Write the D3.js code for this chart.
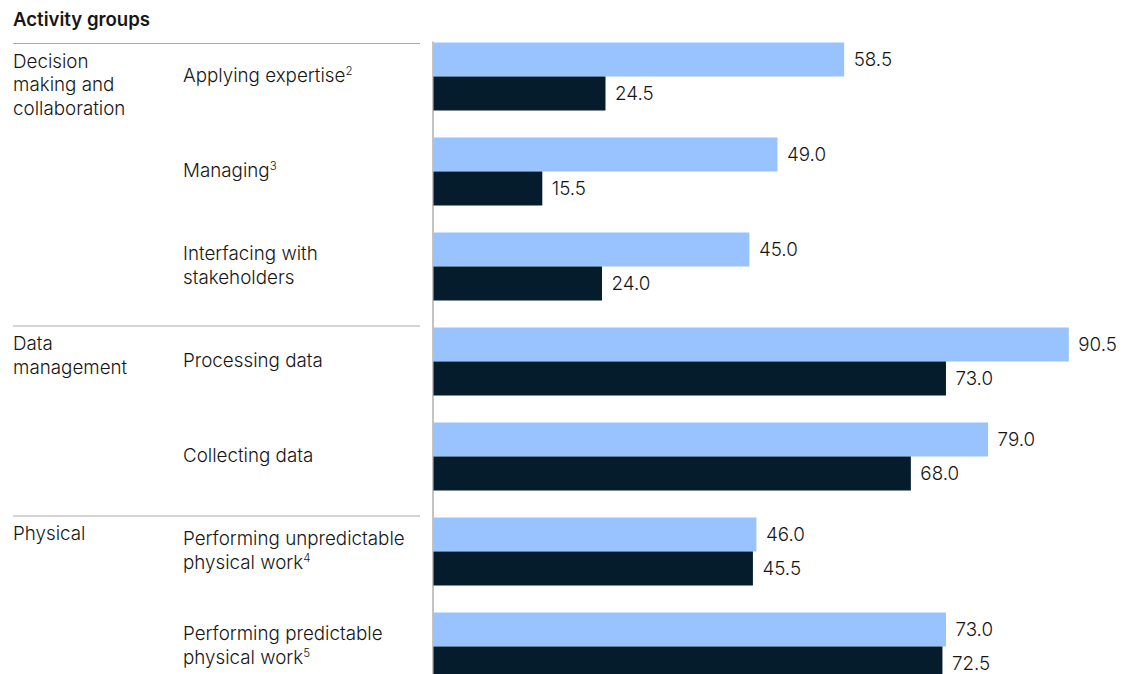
<!DOCTYPE html>
<html>
<head>
<meta charset="utf-8">
<script src="https://cdn.jsdelivr.net/npm/d3@7"></script>
<style>
    body { margin: 0; background: #fff; }
    text { font-family: Inter, "Liberation Sans", Arial, sans-serif; fill: #161616; font-weight: 300; }
</style>
</head>
<body>
<svg class="chart" width="1126" height="674"></svg>
<script>
// Activity groups and the activities in each (sup = footnote number)
var groups = [
    {name: ["Decision", "making and", "collaboration"], size: 3},
    {name: ["Data", "management"], size: 2},
    {name: ["Physical"], size: 2}
];
var activities = [
    {lines: ["Applying expertise"], sup: "2"},
    {lines: ["Managing"], sup: "3"},
    {lines: ["Interfacing with", "stakeholders"], sup: ""},
    {lines: ["Processing data"], sup: ""},
    {lines: ["Collecting data"], sup: ""},
    {lines: ["Performing unpredictable", "physical work"], sup: "4"},
    {lines: ["Performing predictable", "physical work"], sup: "5"}
];
var lightValues = [58.5, 49.0, 45.0, 90.5, 79.0, 46.0, 73.0];
var darkValues = [24.5, 15.5, 24.0, 73.0, 68.0, 45.5, 72.5];

var svg = d3.select(".chart"),
    margin = {top: 42.5, left: 433},
    plotBottom = 674;

var LIGHT = "#99c3ff", DARK = "#051c2c";
var FS = "18.8px";

// Scales
var y = d3.scaleBand()
    .domain(d3.range(activities.length))
    .range([margin.top, margin.top + 95 * activities.length]);
var x = d3.scaleLinear().domain([0, 100]).range([margin.left, 1135]);
var barH = 34;

// Header
svg.append("text")
    .attr("x", 13).attr("y", 26)
    .attr("font-size", "18.6px")
    .style("font-weight", 600)
    .text("Activity groups");

// Group separators + labels
var startIdx = 0;
groups.forEach(function(g, gi) {
    var top = gi === 0 ? y(startIdx) + 1 : y(startIdx) - 1.5;
    svg.append("line")
        .attr("x1", 13).attr("x2", 420)
        .attr("y1", top).attr("y2", top)
        .attr("stroke", "#aaaaaa").attr("stroke-width", 1);
    var t = svg.append("text")
        .attr("x", 13).attr("y", top + 24)
        .attr("font-size", FS);
    g.name.forEach(function(line, i) {
        t.append("tspan").attr("x", 13).attr("dy", i === 0 ? 0 : 23.5).text(line);
    });
    startIdx += g.size;
});

// Activity labels
activities.forEach(function(a, i) {
    var center = y(i) + barH;
    var n = a.lines.length;
    var firstBase = center - (n - 1) * 12 + 5;
    var t = svg.append("text")
        .attr("x", 183).attr("y", firstBase)
        .attr("font-size", FS);
    a.lines.forEach(function(line, j) {
        t.append("tspan").attr("x", 183).attr("dy", j === 0 ? 0 : 24).text(line);
    });
    if (a.sup) {
        t.append("tspan").attr("dy", -7).attr("font-size", "11.5px").text(a.sup);
    }
});

// Axis line
svg.append("line")
    .attr("x1", margin.left).attr("x2", margin.left)
    .attr("y1", margin.top - 1).attr("y2", plotBottom)
    .attr("stroke", "#888888").attr("stroke-width", 1);

// Bars
var rows = svg.selectAll(".row")
    .data(activities.map(function(a, i) { return {i: i, light: lightValues[i], dark: darkValues[i]}; }))
    .enter().append("g").attr("class", "row");

rows.append("rect")
    .attr("x", x(0) + 0.5)
    .attr("y", function(d) { return y(d.i); })
    .attr("width", function(d) { return x(d.light) - x(0); })
    .attr("height", barH)
    .attr("fill", LIGHT);

rows.append("rect")
    .attr("x", x(0) + 0.5)
    .attr("y", function(d) { return y(d.i) + barH; })
    .attr("width", function(d) { return x(d.dark) - x(0); })
    .attr("height", barH)
    .attr("fill", DARK);

// Value labels
rows.append("text")
    .attr("x", function(d) { return x(d.light) + 10; })
    .attr("y", function(d) { return y(d.i) + barH / 2 + 6.5; })
    .attr("font-size", FS)
    .text(function(d) { return d.light.toFixed(1); });

rows.append("text")
    .attr("x", function(d) { return x(d.dark) + 10; })
    .attr("y", function(d) { return y(d.i) + barH * 1.5 + 6.5; })
    .attr("font-size", FS)
    .text(function(d) { return d.dark.toFixed(1); });
</script>
</body>
</html>
